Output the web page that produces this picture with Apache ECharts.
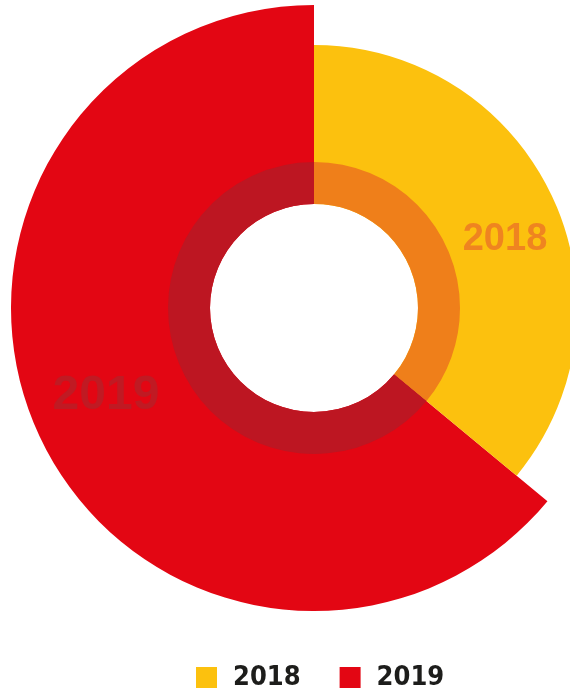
<!DOCTYPE html>
<html>
<head>
<meta charset="utf-8">
<script src="https://cdn.jsdelivr.net/npm/echarts@6/dist/echarts.min.js"></script>
<style>
    html, body { margin: 0; padding: 0; background: #fff; }
    #chart { width: 570px; height: 693px; }
</style>
</head>
<body>
<div id="chart"></div>
<script>
const years = ["2018", "2019"];
const shares = [36, 64];
const colors = ["#fcc10e", "#e30613"];
const ringColors = ["#ef7f1a", "#bd1622"];
const labelColors = ["#ef8420", "#c01a23"];

const center = [314, 308];
const chart = echarts.init(document.getElementById("chart"));

// one slice per series so each year can have its own outer radius
function slices(show) {
    return years.map((y, i) => ({
        name: y,
        value: shares[i],
        itemStyle: { color: i === show ? colors[i] : "rgba(0,0,0,0)" },
        label: { show: i === show },
    }));
}

const labelPos = [
    { x: 505, y: 240, size: 38 },
    { x: 106, y: 396, size: 48 },
];

function pieSeries(show, outer) {
    return {
        type: "pie",
        center: center,
        radius: [104, outer],
        startAngle: 90,
        clockwise: true,
        silent: true,
        animation: false,
        label: {
            position: "inside",
            formatter: "{b}",
            color: labelColors[show],
            fontSize: labelPos[show].size,
            fontWeight: "bold",
            fontFamily: "'Liberation Sans', Arial, sans-serif",
        },
        labelLayout: () => ({ x: labelPos[show].x, y: labelPos[show].y, align: "center", verticalAlign: "middle" }),
        labelLine: { show: false },
        data: slices(show),
    };
}

const option = {
    backgroundColor: "#fff",
    legend: {
        left: 191,
        top: 659,
        padding: 5,
        itemWidth: 21,
        itemHeight: 21,
        itemGap: 39,
        icon: "rect",
        selectedMode: false,
        textStyle: {
            color: "#1d1d1b",
            fontSize: 27,
            fontWeight: "bold",
            fontFamily: "'DejaVu Sans Condensed', sans-serif",
            padding: [0, 0, 0, 11],
        },
        data: years.map((y, i) => ({ name: y, itemStyle: { color: colors[i] } })),
    },
    series: [
        pieSeries(1, 303),
        pieSeries(0, 263),
        {
            type: "pie",
            center: center,
            radius: [104, 146],
            startAngle: 90,
            silent: true,
            animation: false,
            label: { show: false },
            labelLine: { show: false },
            data: years.map((y, i) => ({
                name: y,
                value: shares[i],
                itemStyle: { color: ringColors[i] },
            })),
        },
    ],
};
chart.setOption(option);
</script>
</body>
</html>
